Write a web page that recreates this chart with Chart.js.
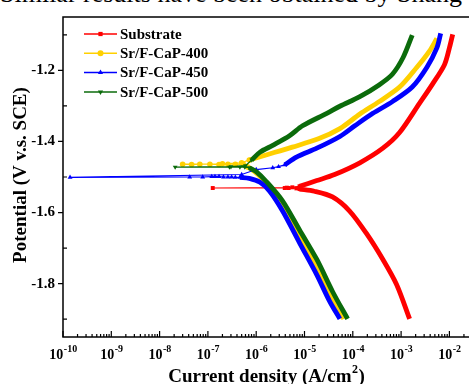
<!DOCTYPE html>
<html>
<head>
<meta charset="utf-8">
<script src="https://cdn.jsdelivr.net/npm/chart.js@4.4.1/dist/chart.umd.min.js"></script>
<style>
  html, body { margin: 0; padding: 0; background: #fff; width: 469px; height: 384px; overflow: hidden; position: relative; }
  .caption { position: absolute; left: 0px; top: -19px; font: 26px/26px "Liberation Serif", serif; white-space: nowrap; color: #000; }
  #grafico { position: absolute; left: 0; top: 0; }
</style>
</head>
<body>
<div class="caption">Similar results have been obtained by Shang</div>
<canvas id="grafico" width="490" height="384"></canvas>
<script>
// series names / colours
const seriesNames = ['Substrate', 'Sr/F-CaP-400', 'Sr/F-CaP-450', 'Sr/F-CaP-500'];
const seriesColors = ['#FF0000', '#FFD000', '#0000FF', '#0B6B0B'];

// axes
const yMajor = [-1.2, -1.4, -1.6, -1.8];
const yMinor = [-1.1, -1.3, -1.5, -1.7, -1.9];
const xDecades = [-10, -9, -8, -7, -6, -5, -4, -3, -2];

// Substrate: current density (A/cm2) and potential (V)
const subCathI = [1.5e-3, 8.1e-4, 4.2e-4, 1.9e-4, 8.5e-5, 3.8e-5, 1.6e-5, 7.9e-6];
const subCathE = [-1.899, -1.803, -1.732, -1.658, -1.595, -1.556, -1.540, -1.534];
const subFlatI = [7.9e-6, 6.8e-6, 4.7e-6, 3.9e-6, 1.26e-7, 4.3e-6, 5.6e-6, 7.9e-6];
const subFlatE = [-1.534, -1.532, -1.531, -1.531, -1.531, -1.530, -1.529, -1.526];
const subAnodI = [7.9e-6, 1.8e-5, 4.2e-5, 1.4e-4, 4.2e-4, 9.3e-4, 2.4e-3, 4.5e-3, 7.9e-3, 1.0e-2, 1.17e-2];
const subAnodE = [-1.526, -1.510, -1.493, -1.460, -1.419, -1.375, -1.293, -1.238, -1.184, -1.137, -1.099];

// Sr/F-CaP-400
const c400CathI = [6.5e-5, 3.3e-5, 1.5e-5, 6.8e-6, 3.0e-6, 1.5e-6, 9.3e-7, 6.6e-7];
const c400CathE = [-1.899, -1.822, -1.732, -1.649, -1.567, -1.512, -1.485, -1.471];
const c400FlatI = [6.6e-7, 5.5e-7, 3.7e-7, 2.6e-7, 1.7e-7, 1.1e-7, 6.8e-8, 4.6e-8, 3.0e-8, 2.0e-7, 5.0e-7, 7.2e-7];
const c400FlatE = [-1.471, -1.465, -1.464, -1.464, -1.465, -1.464, -1.464, -1.465, -1.464, -1.463, -1.460, -1.452];
const c400AnodI = [7.2e-7, 1.6e-6, 5.6e-6, 2.0e-5, 5.4e-5, 1.4e-4, 3.5e-4, 9.3e-4, 2.1e-3, 3.9e-3, 5.5e-3];
const c400AnodE = [-1.452, -1.438, -1.416, -1.392, -1.364, -1.323, -1.288, -1.247, -1.192, -1.145, -1.110];

// Sr/F-CaP-450
const c450CathI = [5.4e-5, 3.3e-5, 1.8e-5, 7.9e-6, 3.5e-6, 1.9e-6, 1.2e-6, 7.2e-7, 4.6e-7];
const c450CathE = [-1.899, -1.849, -1.775, -1.685, -1.595, -1.540, -1.515, -1.504, -1.501];
const c450FlatI = [4.6e-7, 3.7e-7, 3.1e-7, 2.6e-7, 2.1e-7, 1.7e-7, 1.4e-7, 1.2e-7, 7.8e-8, 4.2e-8, 1.4e-10, 5.0e-7, 1.0e-6, 2.2e-6, 2.9e-6, 3.9e-6];
const c450FlatE = [-1.501, -1.501, -1.500, -1.500, -1.500, -1.499, -1.499, -1.499, -1.500, -1.500, -1.501, -1.493, -1.479, -1.474, -1.471, -1.466];
const c450AnodI = [3.9e-6, 6.8e-6, 1.8e-5, 5.4e-5, 1.1e-4, 2.6e-4, 6.6e-4, 1.7e-3, 3.4e-3, 5.5e-3, 6.6e-3];
const c450AnodE = [-1.466, -1.444, -1.419, -1.386, -1.356, -1.321, -1.288, -1.247, -1.192, -1.137, -1.096];

// Sr/F-CaP-500
const c500CathI = [7.8e-5, 3.8e-5, 1.8e-5, 7.9e-6, 3.5e-6, 1.6e-6, 1.0e-6, 7.2e-7];
const c500CathE = [-1.899, -1.822, -1.732, -1.649, -1.567, -1.512, -1.485, -1.474];
const c500FlatI = [7.2e-7, 5.8e-7, 4.6e-7, 2.8e-7, 2.1e-8, 3.0e-7, 6.0e-7, 8.1e-7];
const c500FlatE = [-1.474, -1.472, -1.472, -1.472, -1.472, -1.471, -1.468, -1.452];
const c500AnodI = [8.1e-7, 1.2e-6, 2.2e-6, 4.9e-6, 9.1e-6, 2.9e-5, 5.4e-5, 1.4e-4, 3.5e-4, 6.6e-4, 1.1e-3, 1.7e-3];
const c500AnodE = [-1.452, -1.430, -1.411, -1.384, -1.356, -1.321, -1.301, -1.274, -1.241, -1.211, -1.164, -1.101];

const serif = '"Liberation Serif", "Times New Roman", serif';
const markers = [
  { pointStyle: 'rect', rotation: 0 },
  { pointStyle: 'circle', rotation: 0 },
  { pointStyle: 'triangle', rotation: 0 },
  { pointStyle: 'triangle', rotation: 180 }
];

const pts = (xs, ys) => xs.map((v, i) => ({ x: v, y: ys[i] }));

// thick branch (dense points in the original)
function branch(I, E, k, order) {
  return {
    data: pts(I, E), showLine: true, borderColor: seriesColors[k], backgroundColor: seriesColors[k],
    borderWidth: 4.8, pointRadius: 0, tension: 0.3, order: order
  };
}
// thin part around the corrosion potential, with symbols
function flat(I, E, k, order) {
  return {
    data: pts(I, E), showLine: true, borderColor: seriesColors[k], backgroundColor: seriesColors[k],
    borderWidth: 1.2, pointRadius: 2.8, pointBorderWidth: 0,
    pointStyle: markers[k].pointStyle, rotation: markers[k].rotation, tension: 0, order: order
  };
}

// frame, ticks, legend, titles
const decorations = {
  id: 'decorations',
  afterDraw(chart) {
    const { ctx, chartArea: a, scales: { x, y } } = chart;
    ctx.save();
    ctx.strokeStyle = '#000';
    ctx.lineWidth = 1.5;
    ctx.strokeRect(a.left, a.top, a.right - a.left, a.bottom - a.top);

    ctx.lineWidth = 1.2;
    ctx.beginPath();
    yMajor.forEach(v => { const p = y.getPixelForValue(v); ctx.moveTo(a.left - 5, p); ctx.lineTo(a.left, p); });
    yMinor.forEach(v => { const p = y.getPixelForValue(v); ctx.moveTo(a.left, p); ctx.lineTo(a.left + 4, p); });
    xDecades.forEach(d => {
      const p = x.getPixelForValue(Math.pow(10, d));
      ctx.moveTo(p, a.bottom); ctx.lineTo(p, a.bottom - 6);
      for (let m = 2; m <= 9; m++) {
        const q = x.getPixelForValue(m * Math.pow(10, d));
        if (q < a.right) { ctx.moveTo(q, a.bottom); ctx.lineTo(q, a.bottom - 3); }
      }
    });
    ctx.stroke();

    // x tick labels with superscript
    ctx.fillStyle = '#000';
    ctx.textBaseline = 'alphabetic';
    ctx.textAlign = 'left';
    xDecades.forEach(d => {
      const p = x.getPixelForValue(Math.pow(10, d));
      ctx.font = 'bold 14px ' + serif;
      const w1 = ctx.measureText('10').width;
      ctx.font = 'bold 10px ' + serif;
      const exp = String(d);
      const w2 = ctx.measureText(exp).width;
      const x0 = p - (w1 + w2) / 2;
      ctx.font = 'bold 14px ' + serif;
      ctx.fillText('10', x0, 359);
      ctx.font = 'bold 10px ' + serif;
      ctx.fillText(exp, x0 + w1 + 0.5, 352);
    });

    // x title
    ctx.font = 'bold 19px ' + serif;
    const t1 = 'Current density (A/cm';
    const t2 = ')';
    const w1 = ctx.measureText(t1).width;
    ctx.font = 'bold 12px ' + serif;
    const ws = ctx.measureText('2').width;
    ctx.font = 'bold 19px ' + serif;
    const w2 = ctx.measureText(t2).width;
    const xs0 = 266 - (w1 + ws + w2) / 2;
    ctx.fillText(t1, xs0, 382);
    ctx.font = 'bold 12px ' + serif;
    ctx.fillText('2', xs0 + w1 + 0.5, 373);
    ctx.font = 'bold 19px ' + serif;
    ctx.fillText(t2, xs0 + w1 + ws + 1, 382);

    // y title
    ctx.save();
    ctx.translate(26, 175);
    ctx.rotate(-Math.PI / 2);
    ctx.textAlign = 'center';
    ctx.font = 'bold 19px ' + serif;
    ctx.fillText('Potential (V v.s. SCE)', 0, 0);
    ctx.restore();

    // legend
    seriesNames.forEach((name, k) => {
      const ly = a.top + 17 + k * 19.3;
      ctx.strokeStyle = seriesColors[k];
      ctx.fillStyle = seriesColors[k];
      ctx.lineWidth = 1.5;
      ctx.beginPath();
      ctx.moveTo(a.left + 21, ly);
      ctx.lineTo(a.left + 54, ly);
      ctx.stroke();
      Chart.helpers.drawPoint(ctx, { pointStyle: markers[k].pointStyle, rotation: markers[k].rotation, radius: 3, borderWidth: 0 }, a.left + 37.5, ly);
      ctx.fillStyle = '#000';
      ctx.font = 'bold 15px ' + serif;
      ctx.textBaseline = 'middle';
      ctx.textAlign = 'left';
      ctx.fillText(name, a.left + 57, ly + 1);
    });
    ctx.restore();
  }
};

const ctx = document.getElementById('grafico').getContext('2d');
const grafico = new Chart(ctx, {
  type: 'scatter',
  data: {
    datasets: [
      branch(subCathI, subCathE, 0, 4), flat(subFlatI, subFlatE, 0, 4), branch(subAnodI, subAnodE, 0, 4),
      branch(c400CathI, c400CathE, 1, 3), flat(c400FlatI, c400FlatE, 1, 3), branch(c400AnodI, c400AnodE, 1, 3),
      branch(c450CathI, c450CathE, 2, 2), flat(c450FlatI, c450FlatE, 2, 2), branch(c450AnodI, c450AnodE, 2, 2),
      branch(c500CathI, c500CathE, 3, 1), flat(c500FlatI, c500FlatE, 3, 1), branch(c500AnodI, c500AnodE, 3, 1)
    ]
  },
  options: {
    responsive: false,
    animation: false,
    layout: { padding: { top: 8, right: 11, left: 0, bottom: 0 } },
    plugins: { legend: { display: false }, tooltip: { enabled: false } },
    scales: {
      x: {
        type: 'logarithmic',
        min: 1e-10,
        max: 0.041,
        grid: { display: false, drawTicks: false },
        border: { display: false },
        ticks: { display: false },
        afterFit: s => { s.height = 47; }
      },
      y: {
        min: -1.95,
        max: -1.05,
        grid: { display: false, drawTicks: false },
        border: { display: false },
        afterBuildTicks: s => { s.ticks = yMajor.map(v => ({ value: v })); },
        ticks: {
          color: '#000',
          padding: 8,
          font: { family: serif, size: 15, weight: 'bold' },
          callback: v => v.toFixed(1)
        },
        afterFit: s => { s.width = 63; }
      }
    }
  },
  plugins: [decorations]
});
</script>
</body>
</html>
